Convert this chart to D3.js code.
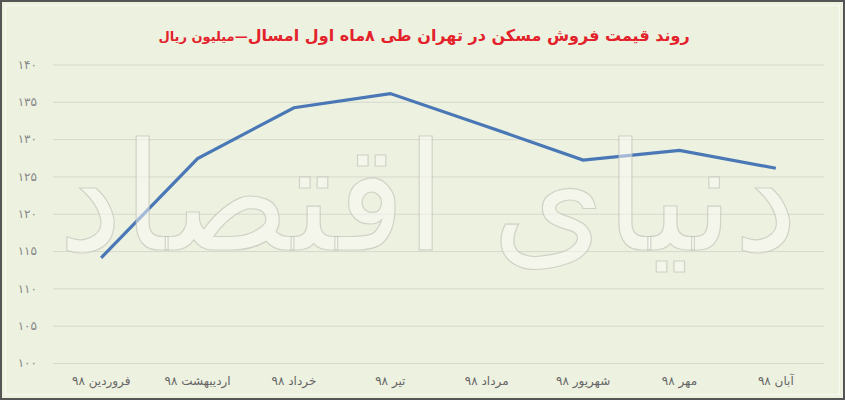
<!DOCTYPE html>
<html><head><meta charset="utf-8">
<script src="https://cdn.jsdelivr.net/npm/d3@7/dist/d3.min.js"></script>
<style>
html,body{margin:0;padding:0;background:#fff;}
svg{display:block;}
</style></head>
<body>
<script>
const categories = ["فروردین ۹۸","اردیبهشت ۹۸","خرداد ۹۸","تیر ۹۸","مرداد ۹۸","شهریور ۹۸","مهر ۹۸","آبان ۹۸"];
const values = [114.1, 127.4, 134.2, 136.1, 131.7, 127.2, 128.5, 126.1];
const yTicks = [100,105,110,115,120,125,130,135,140];
const titleMain = "روند قیمت فروش مسکن در تهران طی ۸ماه اول امسال";
const titleSub = "—میلیون ریال";
const watermark = "دنیای اقتصاد";

const W = 845, H = 400;
const toFa = n => String(n).replace(/\d/g, d => "۰۱۲۳۴۵۶۷۸۹"[d]);

const svg = d3.select("body").append("svg").attr("width", W).attr("height", H);
svg.append("rect").attr("x",0).attr("y",0).attr("width",W).attr("height",H).attr("fill","#edf1e0");
// frame
svg.append("rect").attr("x",1).attr("y",1).attr("width",W-2).attr("height",H-2)
  .attr("fill","none").attr("stroke","#555").attr("stroke-width",2);
svg.append("rect").attr("x",5.5).attr("y",5.5).attr("width",W-11).attr("height",H-11)
  .attr("fill","none").attr("stroke","#f8faf2").attr("stroke-width",1);

const x = d3.scaleBand().domain(categories).range([53, 824]);
const y = d3.scaleLinear().domain([100,140]).range([363, 64.5]);

// gridlines
const yAxis = d3.axisLeft(y).tickValues(yTicks).tickSize(-(824-53)).tickFormat(toFa).tickPadding(16);
const gy = svg.append("g").attr("transform","translate(53,0)").call(yAxis);
gy.select(".domain").remove();
gy.selectAll(".tick line").attr("stroke","#d6d9cc").attr("stroke-width",1);
gy.selectAll(".tick text").attr("fill","#888").attr("font-size",12)
  .attr("font-family","DejaVu Sans, sans-serif");

// x labels
const xAxis = d3.axisBottom(x).tickSize(0).tickPadding(12);
const gx = svg.append("g").attr("transform","translate(0,375)").call(xAxis);
gx.select(".domain").remove();
gx.selectAll(".tick text").attr("fill","#666").attr("font-size",12)
  .attr("font-family","DejaVu Sans, sans-serif").attr("direction","rtl").attr("dy","-0.2em");

// line
const line = d3.line().x((d,i)=>x(categories[i]) + x.bandwidth()/2).y(d=>y(d));
svg.append("path").datum(values).attr("d", line)
  .attr("fill","none").attr("stroke","#4a77b6").attr("stroke-width",3.2).attr("stroke-linejoin","miter");

// watermark
svg.append("text").attr("x", 428).attr("y", 250)
  .attr("text-anchor","middle").attr("direction","rtl")
  .attr("font-family","DejaVu Sans, sans-serif").attr("font-size",150)
  .attr("textLength",740).attr("lengthAdjust","spacingAndGlyphs")
  .attr("fill","#fbfcf8").attr("fill-opacity",0.5)
  .attr("stroke","#b9bcb0").attr("stroke-width",1.2).attr("stroke-opacity",0.6)
  .text(watermark);

// title
const t = svg.append("text").attr("x", 424).attr("y", 41)
  .attr("text-anchor","middle").attr("direction","rtl")
  .attr("font-family","DejaVu Sans, sans-serif").attr("font-weight","bold").attr("fill","#e3222b");
t.append("tspan").attr("font-size",16).text(titleMain);
t.append("tspan").attr("font-size",13).text(titleSub);
</script>
</body></html>
